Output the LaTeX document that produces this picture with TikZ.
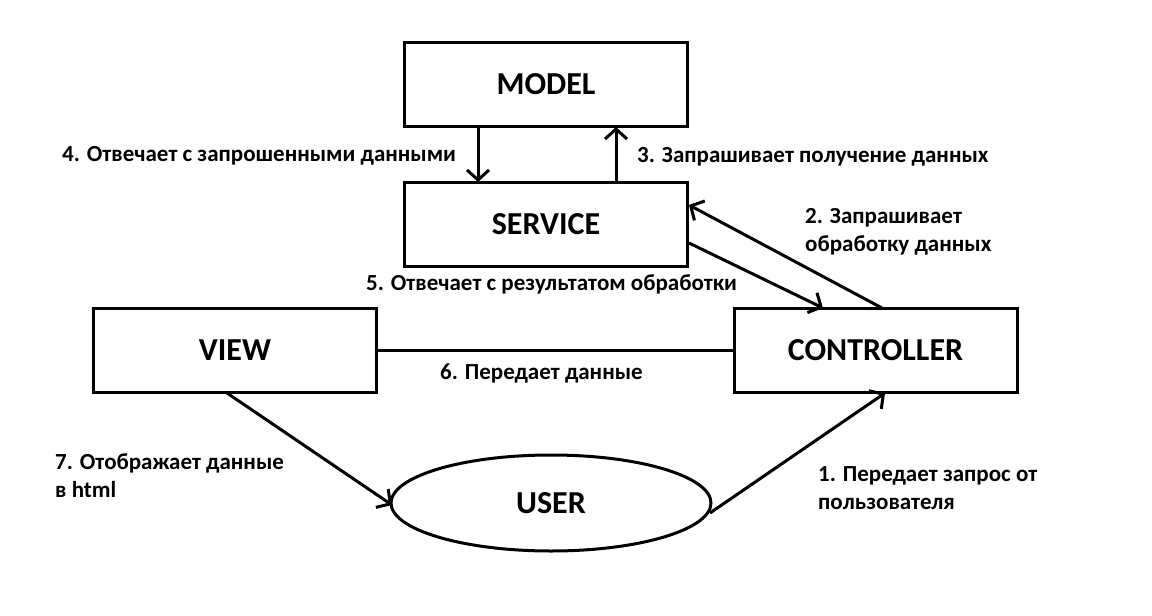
\documentclass[tikz,border=0pt]{standalone}
\usepackage{fontspec}
\setmainfont{Carlito}
\usetikzlibrary{arrows.meta,calc,shapes.geometric}
\begin{document}
\begin{tikzpicture}[x=1pt,y=-1pt,
  box/.style={draw,line width=3pt,minimum width=283pt,minimum height=84pt,inner sep=0pt,font=\fontsize{32}{36}\selectfont\bfseries},
  lbl/.style={anchor=west,inner sep=0pt,align=left,font=\fontsize{23}{28}\selectfont\bfseries},
  conn/.style={line width=3pt},
  arr/.style={conn,-{Straight Barb[length=10pt,width=22pt,line width=3pt]}}]
\useasboundingbox[fill=white] (0,0) rectangle (1152,616);
\node[box] (model) at (546,84.5) {MODEL};
\node[box] (service) at (546,224.5) {\raisebox{-2pt}{SERVICE}};
\node[box] (view) at (235,350.5) {VIEW};
\node[box] (controller) at (875.5,350.5) {\raisebox{-2pt}{CONTROLLER}};
\node[draw,line width=3pt,ellipse,minimum width=320pt,minimum height=96pt,inner sep=0pt,font=\fontsize{32}{36}\selectfont\bfseries] (user) at (551,503) {USER};
% connectors
\coordinate (m1) at (478,127);
\coordinate (s1) at (478,182);
\coordinate (m2) at (616,127);
\coordinate (s2) at (616,182);
\draw[arr] (m1) -- (s1);
\draw[arr] (s2) -- (m2);
\coordinate (c1) at (882,308);
\coordinate (s3) at (689,205);
\draw[arr] (c1) -- (s3);
\coordinate (s4) at (689,243);
\coordinate (c2) at (823,308);
\draw[arr] (s4) -- (c2);
\draw[conn] (view.east) -- (controller.west);
\coordinate (v1) at (227,393);
\coordinate (u1) at (392,505);
\draw[arr] (v1) -- (u1);
\coordinate (u2) at (710,513);
\coordinate (c3) at (885,393);
\draw[arr] (u2) -- (c3);
% labels
\node[lbl] (l4) at (62,156) {4. Отвечает с запрошенными данными};
\node[lbl] (l3) at (637,157) {3. Запрашивает получение данных};
\node[lbl] (l2) at (805,232) {2. Запрашивает\\обработку данных};
\node[lbl] (l5) at (366,284) {5. Отвечает с результатом обработки};
\node[lbl] (l6) at (440,373) {6. Передает данные};
\node[lbl] (l7) at (55,476) {7. Отображает данные\\в html};
\node[lbl] (l1) at (818,488) {1. Передает запрос от\\пользователя};
\end{tikzpicture}
\end{document}
